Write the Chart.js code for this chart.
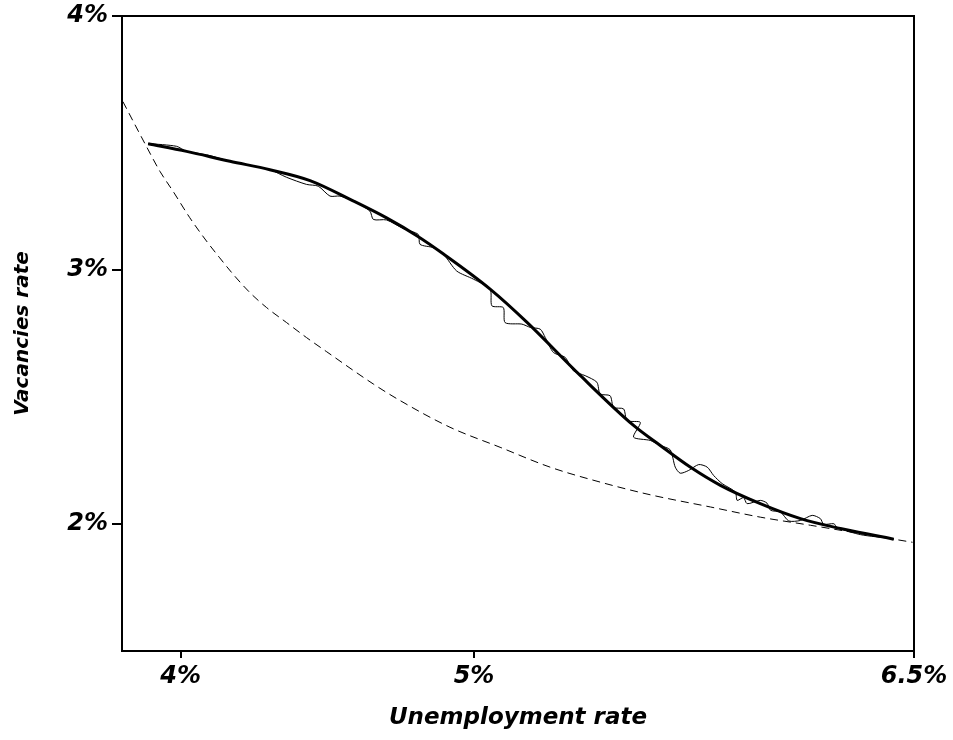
<!DOCTYPE html>
<html>
<head>
<meta charset="utf-8">
<title>Vacancies and unemployment</title>
<script src="https://cdn.jsdelivr.net/npm/chart.js@4.4.1/dist/chart.umd.min.js"></script>
<style>
    body { margin: 0; background: #fff; }
</style>
</head>
<body>
<canvas id="beveridge" width="953" height="740"></canvas>
<script>
// smoothed curve (thick line)
const fitU = [3.889, 4.020, 4.168, 4.304, 4.441, 4.588, 4.702, 4.805, 4.896, 5.055, 5.180, 5.362, 5.544, 5.635, 5.737, 5.840, 5.976, 6.113, 6.249, 6.420, 6.431];
const fitV = [3.497, 3.467, 3.428, 3.395, 3.352, 3.272, 3.205, 3.135, 3.063, 2.925, 2.795, 2.585, 2.388, 2.309, 2.224, 2.152, 2.080, 2.021, 1.982, 1.943, 1.940];

// raw path (thin wiggly line)
const rawU = [3.889, 3.986, 4.020, 4.088, 4.168, 4.304, 4.361, 4.429, 4.469, 4.509, 4.543, 4.588, 4.645, 4.657, 4.702, 4.759, 4.810, 4.816, 4.861, 4.896,
              4.941, 4.998, 5.055, 5.061, 5.100, 5.106, 5.163, 5.192, 5.226, 5.243, 5.271, 5.311, 5.339, 5.379, 5.419, 5.430, 5.464, 5.476, 5.510, 5.522,
              5.567, 5.544, 5.601, 5.635, 5.669, 5.686, 5.703, 5.732, 5.766, 5.795, 5.817, 5.846, 5.891, 5.897, 5.919, 5.931, 5.976, 5.999, 6.011, 6.045,
              6.073, 6.113, 6.153, 6.181, 6.192, 6.227, 6.238, 6.318, 6.420, 6.431];
const rawV = [3.498, 3.487, 3.467, 3.454, 3.428, 3.395, 3.365, 3.337, 3.330, 3.291, 3.291, 3.272, 3.232, 3.199, 3.197, 3.163, 3.140, 3.101, 3.088, 3.062,
              2.996, 2.964, 2.924, 2.859, 2.852, 2.793, 2.787, 2.774, 2.767, 2.734, 2.675, 2.656, 2.603, 2.584, 2.558, 2.512, 2.505, 2.459, 2.453, 2.407,
              2.400, 2.342, 2.329, 2.309, 2.292, 2.224, 2.200, 2.211, 2.234, 2.224, 2.191, 2.159, 2.126, 2.093, 2.104, 2.080, 2.093, 2.082, 2.054, 2.047,
              2.012, 2.014, 2.034, 2.021, 1.999, 2.001, 1.986, 1.958, 1.943, 1.940];

// dashed reference curve
const refU = [3.803, 3.883, 3.929, 3.974, 4.031, 4.088, 4.133, 4.179, 4.236, 4.293, 4.361, 4.429, 4.498, 4.657, 4.748, 4.918, 5.089, 5.259, 5.430, 5.601, 5.806, 5.976, 6.147, 6.318, 6.495];
const refV = [3.663, 3.487, 3.389, 3.310, 3.206, 3.114, 3.048, 2.983, 2.911, 2.852, 2.793, 2.734, 2.678, 2.551, 2.486, 2.381, 2.302, 2.224, 2.165, 2.115, 2.067, 2.027, 1.995, 1.962, 1.928];

const xTicks = [4, 5, 6.5];
const yTicks = [2, 3, 4];

function toPoints(xs, ys) {
    return xs.map(function (x, i) { return { x: x, y: ys[i] }; });
}

const tickFont = { family: "'DejaVu Sans', sans-serif", size: 24, weight: "bold", style: "italic" };

// box round the plot area
const frame = {
    id: "frame",
    afterDraw: function (chart) {
        const a = chart.chartArea;
        const ctx = chart.ctx;
        ctx.save();
        ctx.strokeStyle = "#000";
        ctx.lineWidth = 2;
        ctx.strokeRect(a.left, a.top, a.right - a.left, a.bottom - a.top);
        ctx.restore();
    },
};

document.addEventListener("DOMContentLoaded", function () {

    const canvas = document.getElementById("beveridge");

    new Chart(canvas, {
        type: "scatter",
        data: {
            datasets: [{
                label: "raw",
                data: toPoints(rawU, rawV),
                showLine: true,
                borderColor: "#000",
                borderWidth: 1,
                tension: 0.25,
                pointRadius: 0,
            }, {
                label: "smoothed",
                data: toPoints(fitU, fitV),
                showLine: true,
                borderColor: "#000",
                borderWidth: 3,
                cubicInterpolationMode: "monotone",
                pointRadius: 0,
            }, {
                label: "reference",
                data: toPoints(refU, refV),
                showLine: true,
                borderColor: "#000",
                borderWidth: 1,
                borderDash: [8, 5],
                cubicInterpolationMode: "monotone",
                pointRadius: 0,
            }],
        },
        options: {
            responsive: false,
            animation: false,
            layout: {
                padding: { top: 16, right: 39, bottom: 0, left: 0 },
            },
            plugins: {
                legend: { display: false },
                tooltip: { enabled: false },
            },
            scales: {
                x: {
                    type: "linear",
                    min: 3.8,
                    max: 6.5,
                    afterBuildTicks: function (scale) {
                        scale.ticks = xTicks.map(function (v) { return { value: v }; });
                    },
                    afterFit: function (scale) {
                        scale.height = 89;
                    },
                    border: { display: true, color: "#000", width: 2 },
                    grid: { drawOnChartArea: false, drawTicks: true, tickLength: 7, color: "#000", lineWidth: 2 },
                    ticks: {
                        color: "#000",
                        font: tickFont,
                        padding: 4,
                        maxRotation: 0,
                        autoSkip: false,
                        callback: function (v) { return v + "%"; },
                    },
                    title: {
                        display: true,
                        text: "Unemployment rate",
                        color: "#000",
                        font: { family: "'DejaVu Sans', sans-serif", size: 23, weight: "bold", style: "italic" },
                        padding: { top: 0, bottom: 8 },
                    },
                },
                y: {
                    type: "linear",
                    min: 1.5,
                    max: 4,
                    afterBuildTicks: function (scale) {
                        scale.ticks = yTicks.map(function (v) { return { value: v }; });
                    },
                    afterFit: function (scale) {
                        scale.width = 122;
                        scale.paddingTop = 0;
                        scale.paddingBottom = 0;
                    },
                    border: { display: true, color: "#000", width: 2 },
                    grid: { drawOnChartArea: false, drawTicks: true, tickLength: 10, color: "#000", lineWidth: 2 },
                    ticks: {
                        color: "#000",
                        font: tickFont,
                        padding: 4,
                        autoSkip: false,
                        callback: function (v) { return v + "%"; },
                    },
                    title: {
                        display: true,
                        text: "Vacancies rate",
                        color: "#000",
                        font: { family: "'DejaVu Sans', sans-serif", size: 20, weight: "bold", style: "italic" },
                        padding: { top: 11, bottom: 0 },
                    },
                },
            },
        },
        plugins: [frame],
    });
});
</script>
</body>
</html>
